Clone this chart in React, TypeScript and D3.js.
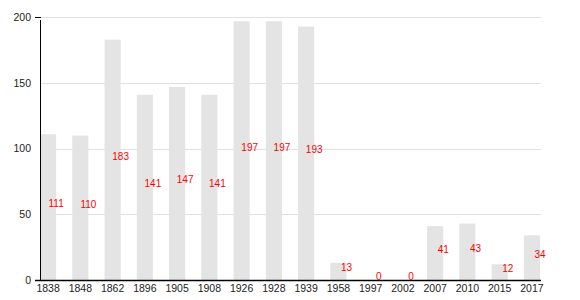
import React from "react";
import * as d3 from "d3";

const categories = ["1838", "1848", "1862", "1896", "1905", "1908", "1926", "1928", "1939", "1958", "1997", "2002", "2007", "2010", "2015", "2017"];
const values = [111, 110, 183, 141, 147, 141, 197, 197, 193, 13, 0, 0, 41, 43, 12, 34];
const yTicks = [0, 50, 100, 150, 200];

const W = 580;
const H = 300;
const left = 40;
const right = 540;
const bottom = 280;
const top = 17.3;
const font = "'Liberation Sans', Arial, Helvetica, sans-serif";

export default function App() {
  const x = d3.scaleBand<string>().domain(categories).range([left, right]).paddingInner(0.5).paddingOuter(0);
  const y = d3.scaleLinear().domain([0, 200]).range([bottom, top]);
  const bw = x.bandwidth();

  return (
    <svg width={W} height={H} style={{ position: "absolute", left: 0, top: 0, background: "#fff" }} fontFamily={font}>
      {yTicks.filter((t) => t > 0).map((t) => (
        <line key={"g" + t} x1={left + 1} x2={right + 1} y1={Math.round(y(t)) + 0.5} y2={Math.round(y(t)) + 0.5} stroke="#e0e0e0" strokeWidth={1} />
      ))}
      {categories.map((c, i) => (
        <rect key={"b" + c} x={x(c)} y={y(values[i])} width={bw} height={bottom - y(values[i])} fill="#e4e4e4" />
      ))}
      <line x1={left + 0.5} x2={left + 0.5} y1={20} y2={bottom} stroke="#000" strokeWidth={1} />
      <line x1={35} x2={left + 1} y1={Math.round(y(200)) + 0.5} y2={Math.round(y(200)) + 0.5} stroke="#000" strokeWidth={1} />
      <line x1={35} x2={right + 1} y1={bottom + 0.5} y2={bottom + 0.5} stroke="#000" strokeWidth={1.3} />
      {yTicks.map((t) => (
        <text key={"yt" + t} x={31} y={y(t)} dy="0.35em" textAnchor="end" fontSize={10.5} fill="#222">
          {t}
        </text>
      ))}
      {categories.map((c) => (
        <text key={"xt" + c} x={(x(c) as number) + bw / 2} y={291.5} textAnchor="middle" fontSize={10.5} fill="#222">
          {c}
        </text>
      ))}
      {categories.map((c, i) => (
        <text key={"l" + c} x={(x(c) as number) + bw} y={y(values[i] / 2)} textAnchor="middle" fontSize={10} fill="#ff0000">
          {values[i]}
        </text>
      ))}
    </svg>
  );
}
